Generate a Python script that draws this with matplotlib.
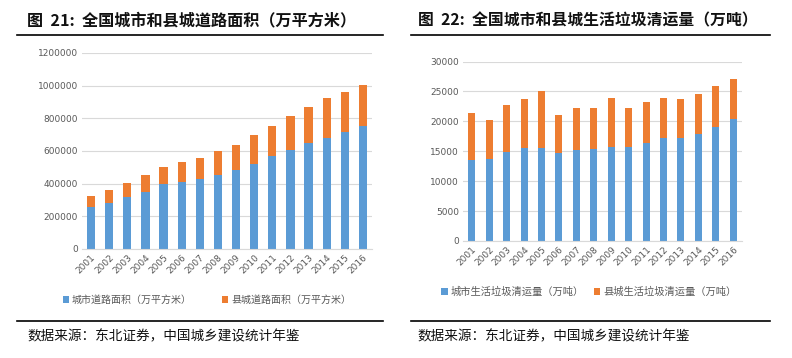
import numpy as np
import matplotlib.pyplot as plt
from matplotlib.ticker import FormatStrFormatter

plt.rcParams['font.family'] = ['Noto Sans CJK SC', 'DejaVu Sans']

years = [str(y) for y in range(2001, 2017)]

# 道路面积（万平方米）
road_city = [255000, 281000, 320000, 352000, 395000, 413000, 428000, 452000,
             485000, 523000, 568000, 609000, 646000, 682000, 719000, 756000]
road_total = [326000, 362000, 405000, 452000, 501000, 534000, 558000, 603000,
              637000, 699000, 754000, 815000, 870000, 925000, 961000, 1006000]
road_county = [t - c for t, c in zip(road_total, road_city)]

# 生活垃圾清运量（万吨）
waste_city = [13560, 13670, 14840, 15550, 15510, 14790, 15230, 15400,
              15760, 15790, 16350, 17150, 17280, 17900, 19050, 20370]
waste_total = [21370, 20260, 22710, 23770, 25110, 21090, 22270, 22210,
               23940, 22210, 23160, 23940, 23770, 24610, 25840, 27120]
waste_county = [t - c for t, c in zip(waste_total, waste_city)]

BLUE = '#5B9BD5'
ORANGE = '#ED7D31'
GRID = '#D9D9D9'
TXT = '#595959'

W, H = 792, 358
fig = plt.figure(figsize=(W / 100, H / 100), dpi=100)


def px_axes(x0, y0, x1, y1):
    # pixel box (top-left origin) -> figure fraction
    return fig.add_axes([x0 / W, 1 - y1 / H, (x1 - x0) / W, (y1 - y0) / H])


def panel(ax, city, county, ymax, step, width, lab_city, lab_county):
    x = np.arange(len(years))
    ax.bar(x, city, width, color=BLUE, label=lab_city, zorder=2)
    ax.bar(x, county, width, bottom=city, color=ORANGE, label=lab_county, zorder=2)
    ax.set_ylim(0, ymax)
    ax.set_xlim(-0.5, len(years) - 0.5)
    ax.set_yticks(np.arange(0, ymax + 1, step))
    ax.yaxis.set_major_formatter(FormatStrFormatter('%d'))
    ax.yaxis.grid(True, color=GRID, lw=0.8, zorder=0)
    ax.set_xticks(x)
    ax.set_xticklabels(years, rotation=45, ha='right', rotation_mode='anchor',
                       fontsize=6.5, color=TXT, family='DejaVu Sans')
    for lab in ax.get_yticklabels():
        lab.set_fontsize(6.5)
        lab.set_color(TXT)
        lab.set_family('DejaVu Sans')
    ax.tick_params(length=0, pad=3)
    for s in ['top', 'right', 'left']:
        ax.spines[s].set_visible(False)
    ax.spines['bottom'].set_color(GRID)


ax1 = px_axes(82, 53, 372, 249)
panel(ax1, road_city, road_county, 1200000, 200000, 0.45,
      '城市道路面积（万平方米）', '县城道路面积（万平方米）')
ax2 = px_axes(463, 61.5, 742, 241)
panel(ax2, waste_city, waste_county, 30000, 5000, 0.4,
      '城市生活垃圾清运量（万吨）', '县城生活垃圾清运量（万吨）')

# legends
fig.legend(*ax1.get_legend_handles_labels(), loc='center', ncol=2,
           bbox_to_anchor=(207 / W, 1 - 300 / H), frameon=False,
           fontsize=7.2, labelcolor=TXT, handlelength=0.6, handleheight=0.6,
           handletextpad=0.3, columnspacing=3.0)
fig.legend(*ax2.get_legend_handles_labels(), loc='center', ncol=2,
           bbox_to_anchor=(589 / W, 1 - 292 / H), frameon=False,
           fontsize=7.4, labelcolor=TXT, handlelength=0.6, handleheight=0.6,
           handletextpad=0.3, columnspacing=1.0)

# titles, rules and sources
fig.text(27 / W, 1 - 20 / H, '图  21:  全国城市和县城道路面积（万平方米）',
         fontsize=11.6, fontweight='bold', va='center', color='#111111')
fig.text(418 / W, 1 - 20 / H, '图  22:  全国城市和县城生活垃圾清运量（万吨）',
         fontsize=11.4, fontweight='bold', va='center', color='#111111')
for (xa, xb) in [(17, 383), (411, 770)]:
    for yy in (35, 321):
        fig.add_artist(plt.Line2D([xa / W, xb / W], [1 - yy / H, 1 - yy / H],
                                  color='black', lw=1.2))
fig.text(27 / W, 1 - 336 / H, '数据来源：东北证券，中国城乡建设统计年鉴',
         fontsize=9.8, va='center', color='#111111')
fig.text(417 / W, 1 - 336 / H, '数据来源：东北证券，中国城乡建设统计年鉴',
         fontsize=9.8, va='center', color='#111111')

fig.savefig('out.png', dpi=100)
